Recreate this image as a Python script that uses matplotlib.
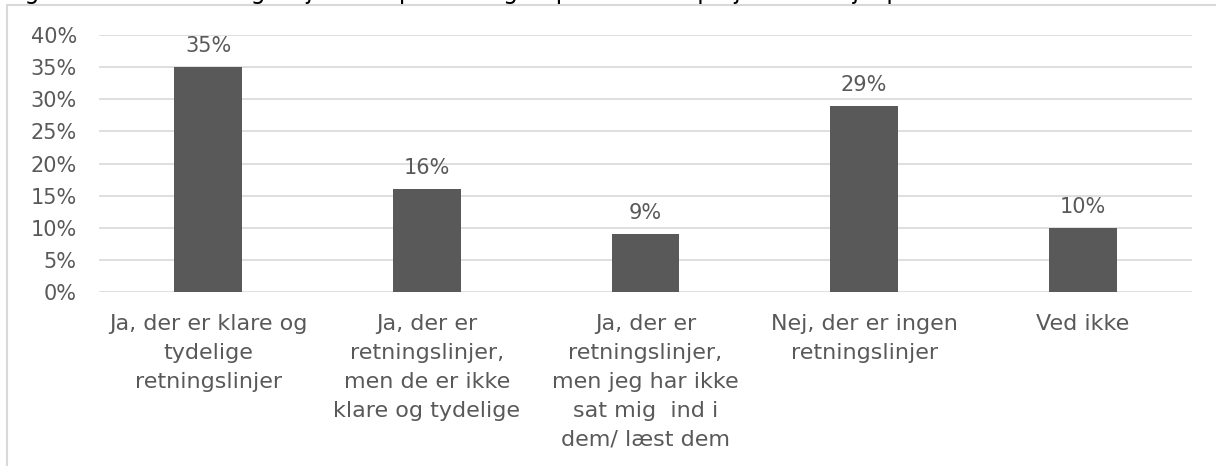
import matplotlib
matplotlib.use("Agg")
import matplotlib.pyplot as plt
from matplotlib.patches import Rectangle

categories = [
    "Ja, der er klare og\ntydelige\nretningslinjer",
    "Ja, der er\nretningslinjer,\nmen de er ikke\nklare og tydelige",
    "Ja, der er\nretningslinjer,\nmen jeg har ikke\nsat mig  ind i\ndem/ læst dem",
    "Nej, der er ingen\nretningslinjer",
    "Ved ikke",
]
values = [35, 16, 9, 29, 10]
yticks = [0, 5, 10, 15, 20, 25, 30, 35, 40]
ytick_labels = [f"{v}%" for v in yticks]
title_text = "Figur 6: Er der retningslinjer for opbevaring af persondata på jeres arbejdsplads?"

W, H = 1216, 466
fig = plt.figure(figsize=(W / 100, H / 100), dpi=100)
plt.rcParams['font.family'] = ['DejaVu Sans']
txt = "#595959"
fs = 15

# chart frame (cut off at right and bottom)
fig.patches.append(Rectangle((7 / W, -0.1), 1.2, (H - 5) / H + 0.1, transform=fig.transFigure,
                             fill=False, edgecolor="#d9d9d9", linewidth=1.5))
# cut-off title (only descenders visible, as in the reference)
fig.text(6 / W, 1 + 1 / H, title_text, fontsize=17, color="black", va="baseline", ha="left")

left, right = 99 / W, 1192 / W
top, bottom = 1 - 35 / H, 1 - 292 / H
ax = fig.add_axes([left, bottom, right - left, top - bottom])

x = list(range(len(categories)))
ax.bar(x, values, width=0.31, color="#595959", zorder=3)
ax.set_xlim(-0.5, len(categories) - 0.5)
ax.set_ylim(0, 40)
ax.set_yticks(yticks)
ax.set_yticklabels(ytick_labels)
ax.grid(axis="y", color="#d9d9d9", linewidth=1.2, zorder=0)
for s in ax.spines.values():
    s.set_visible(False)
ax.tick_params(axis="both", length=0, labelsize=fs, colors=txt)
ax.tick_params(axis="y", pad=16)
ax.set_xticks(x)
ax.set_xticklabels(categories, linespacing=1.55, va="top", fontsize=16)
ax.tick_params(axis="x", pad=16)

for xi, v in zip(x, values):
    ax.annotate(f"{v}%", (xi, v), xytext=(0, 8), textcoords="offset points",
                ha="center", va="bottom", fontsize=fs, color=txt)

fig.savefig("out.png", dpi=100)
